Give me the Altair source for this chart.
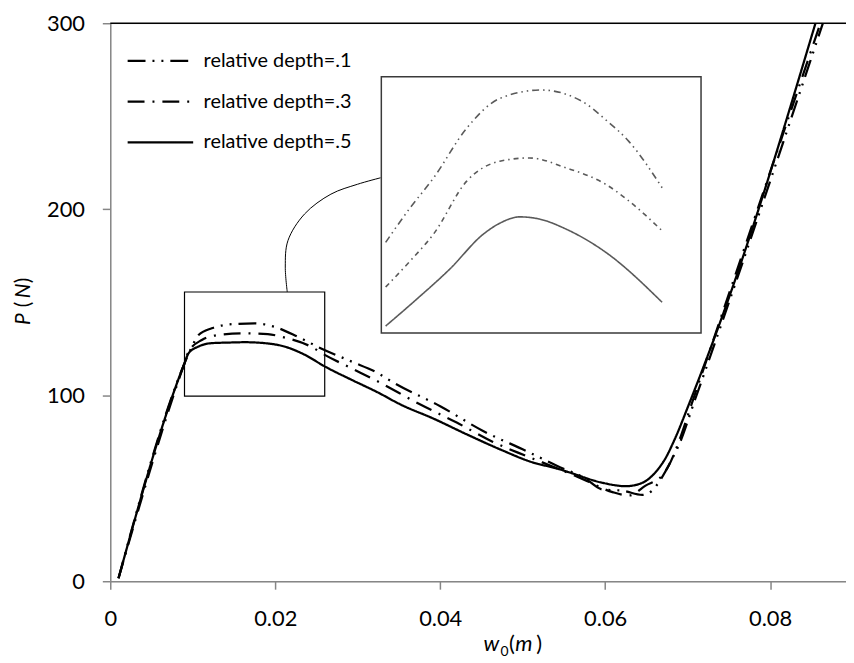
import altair as alt
import pandas as pd

SERIES = ["relative depth=.1", "relative depth=.3", "relative depth=.5"]

# ---- main curves (w0 in m, P in N) ----
w_01 = [0.001, 0.0089, 0.0099, 0.0107, 0.0123, 0.0151, 0.0175, 0.0199, 0.0227, 0.0255,
        0.0292, 0.0324, 0.0344, 0.0400, 0.0452, 0.0504, 0.0542, 0.0575, 0.0597, 0.0621,
        0.0645, 0.0657, 0.0665, 0.0683, 0.0689, 0.0709, 0.0864]
P_01 = [1.6, 116, 126.2, 132.4, 136.0, 138.3, 138.6, 136.8, 131.5, 125.3,
        118.2, 112.0, 106.6, 94.1, 80.8, 70.1, 62.0, 55.5, 49.3, 48.7,
        46.4, 48.7, 53.2, 67.4, 72.8, 97.7, 300]

w_03 = [0.001, 0.0089, 0.0095, 0.0111, 0.0131, 0.0163, 0.0191, 0.0215, 0.0243, 0.0260,
        0.0292, 0.0324, 0.0376, 0.0420, 0.0464, 0.0504, 0.0544, 0.0575, 0.0609, 0.0629,
        0.0649, 0.0669, 0.0677, 0.0689, 0.0705, 0.0861]
P_03 = [1.6, 116, 123.5, 129.7, 132.4, 133.3, 132.8, 130.6, 126.2, 121.7,
        114.6, 107.5, 95.0, 85.3, 74.9, 67.4, 60.3, 54.5, 47.9, 46.1,
        51.4, 56.8, 62.1, 74.6, 95.5, 300]

w_05 = [0.001, 0.0089, 0.0095, 0.0107, 0.0123, 0.0143, 0.0163, 0.0187, 0.0211, 0.0236,
        0.0260, 0.0292, 0.0324, 0.0352, 0.0392, 0.0432, 0.0472, 0.0512, 0.0544, 0.0556,
        0.0597, 0.0625, 0.0645, 0.0661, 0.0673, 0.0685, 0.0701, 0.0749, 0.0855]
P_05 = [1.6, 116, 122.6, 126.2, 128.0, 128.3, 128.5, 128.0, 126.2, 121.7,
        115.5, 108.4, 101.6, 95.0, 87.4, 79.0, 71.0, 63.9, 60.3, 58.6,
        52.9, 51.1, 52.9, 58.6, 66.0, 77.0, 94.5, 151.1, 300]

# ---- zoom box on main chart and connector ----
box_w = [0.009, 0.026]
box_P = [99.5, 155.5]
con_w = [0.02146, 0.02122, 0.02154, 0.02355, 0.02675, 0.02996, 0.03277]
con_P = [155.5, 168.9, 183.1, 197.4, 208.1, 213.4, 216.9]

# ---- inset (magnified) curves ----
ins_w1 = [0.00923, 0.01050, 0.01178, 0.01354, 0.0153, 0.0175, 0.0197, 0.02093, 0.02216, 0.02393]
ins_P1 = [126.43, 129.20, 131.72, 135.79, 138.23, 138.92, 137.97, 136.48, 134.71, 130.91]
ins_w3 = [0.00923, 0.01050, 0.01178, 0.01354, 0.0153, 0.01688, 0.01882, 0.02093, 0.02216, 0.02393]
ins_P3 = [122.77, 124.85, 127.12, 131.45, 133.08, 133.35, 132.54, 131.19, 129.83, 127.38]
ins_w5 = [0.00923, 0.0109, 0.01266, 0.01442, 0.0153, 0.01635, 0.01741, 0.01882, 0.02093, 0.02393]
ins_P5 = [119.57, 121.80, 124.27, 127.10, 128.0, 128.52, 128.34, 127.52, 125.62, 121.52]
ins_dom_w = [0.009, 0.026]
ins_dom_P = [119, 140]

x_ticks = [0, 0.02, 0.04, 0.06, 0.08]
y_ticks = [0, 100, 200, 300]
X_MAX = 0.0892

GRAY = "#868686"
FONT = "Lato"


def long(ws_list, ps_list):
    rows = []
    for s, ws, ps in zip(SERIES, ws_list, ps_list):
        for i, (a, b) in enumerate(zip(ws, ps)):
            rows.append({"series": s, "w": a, "P": b, "i": i})
    return pd.DataFrame(rows)


main_df = long([w_01, w_03, w_05], [P_01, P_03, P_05])
ins_df = long([ins_w1, ins_w3, ins_w5], [ins_P1, ins_P3, ins_P5])
con_df = pd.DataFrame({"w": con_w, "P": con_P, "i": list(range(len(con_w)))})
box_df = pd.DataFrame({"w": [box_w[0]], "w2": [box_w[1]], "P": [box_P[0]], "P2": [box_P[1]]})
top_df = pd.DataFrame({"P": [300]})
frame_df = pd.DataFrame({"w": [ins_dom_w[0]], "w2": [ins_dom_w[1]], "P": [ins_dom_P[0]], "P2": [ins_dom_P[1]]})
one = pd.DataFrame({"k": [0]})

axis_common = dict(grid=False, domainColor=GRAY, domainWidth=1.5, tickColor=GRAY,
                   tickWidth=1.5, tickSize=8, labelFont=FONT, labelFontSize=22,
                   labelColor="black", title=None)

xenc = alt.X("w:Q", scale=alt.Scale(domain=[0, X_MAX], nice=False, zero=False),
             axis=alt.Axis(values=x_ticks, format="~g", labelPadding=20, labelFlush=False,
                           **axis_common))
yenc = alt.Y("P:Q", scale=alt.Scale(domain=[0, 300], nice=False, zero=False),
             axis=alt.Axis(values=y_ticks, labelPadding=18, **axis_common))

dash_range = [[18, 7, 2, 7, 2, 7], [17, 8, 2, 8], [1, 0]]

top_rule = alt.Chart(top_df).mark_rule(color="black", strokeWidth=1.5).encode(y=yenc)

small_box = alt.Chart(box_df).mark_rect(fillOpacity=0, stroke="black", strokeWidth=1.2).encode(
    x=xenc, x2="w2:Q", y=yenc, y2="P2:Q")

connector = alt.Chart(con_df).mark_line(color="black", strokeWidth=1,
                                        interpolate="catmull-rom").encode(
    x=xenc, y=yenc, order="i:Q")

lines = alt.Chart(main_df).mark_line(color="black", strokeWidth=2.25,
                                     interpolate="monotone").encode(
    x=xenc, y=yenc, order="i:Q",
    strokeDash=alt.StrokeDash(
        "series:N",
        scale=alt.Scale(domain=SERIES, range=dash_range),
        legend=alt.Legend(title=None, orient="none", legendX=16, legendY=28,
                          symbolType="stroke", symbolSize=4356, symbolStrokeWidth=2.25,
                          symbolStrokeColor="black", labelFont=FONT, labelFontSize=20,
                          labelColor="black", labelOffset=9, rowPadding=21,
                          clipHeight=20, padding=0)))


def piece(txt, x, y, size=22, style="normal", angle=0):
    return alt.Chart(one).mark_text(text=txt, font=FONT, fontSize=size, fontStyle=style,
                                    align="left", baseline="alphabetic", angle=angle,
                                    color="black").encode(x=alt.value(x), y=alt.value(y))


xtitle = [piece("w", 376, 632, 22, "italic"),
          piece("0", 393, 637, 14),
          piece("(", 401.5, 632, 22),
          piece("m", 408, 632, 22, "italic"),
          piece(")", 429, 632, 22)]
ytitle = [piece("P", -81, 304, 21, "italic", 270),
          piece("(", -81, 286, 21, "normal", 270),
          piece("N", -81, 277, 21, "italic", 270),
          piece(")", -81, 262, 21, "normal", 270)]

main = alt.layer(top_rule, small_box, connector, lines, *xtitle, *ytitle)

ixs = alt.Scale(domain=ins_dom_w, range=[273, 595], nice=False, zero=False)
iys = alt.Scale(domain=ins_dom_P, range=[312, 54], nice=False, zero=False)

inset_frame = alt.Chart(frame_df).mark_rect(fill="white", stroke="#3a3a3a", strokeWidth=1.5).encode(
    x=alt.X("w:Q", scale=ixs, axis=None), x2="w2:Q",
    y=alt.Y("P:Q", scale=iys, axis=None), y2="P2:Q")

inset_lines = alt.Chart(ins_df).mark_line(color="#5a5a5a", strokeWidth=1.6,
                                          interpolate="monotone").encode(
    x=alt.X("w:Q", scale=ixs, axis=None),
    y=alt.Y("P:Q", scale=iys, axis=None),
    order="i:Q",
    strokeDash=alt.StrokeDash("series:N",
                              scale=alt.Scale(domain=SERIES,
                                              range=[[7, 4, 1.5, 4, 1.5, 4], [5, 4, 1.5, 4], [1, 0]]),
                              legend=None))

inset = alt.layer(inset_frame, inset_lines)

chart = alt.layer(main, inset).resolve_scale(
    x="independent", y="independent", strokeDash="independent"
).properties(
    width=741, height=562,
    padding={"left": 103, "top": 13, "right": 0, "bottom": 76},
    autosize=alt.AutoSizeParams(type="none"),
).configure_view(stroke=None).configure(font=FONT)

chart.save("out.html", embed_options={"renderer": "svg", "actions": False})
